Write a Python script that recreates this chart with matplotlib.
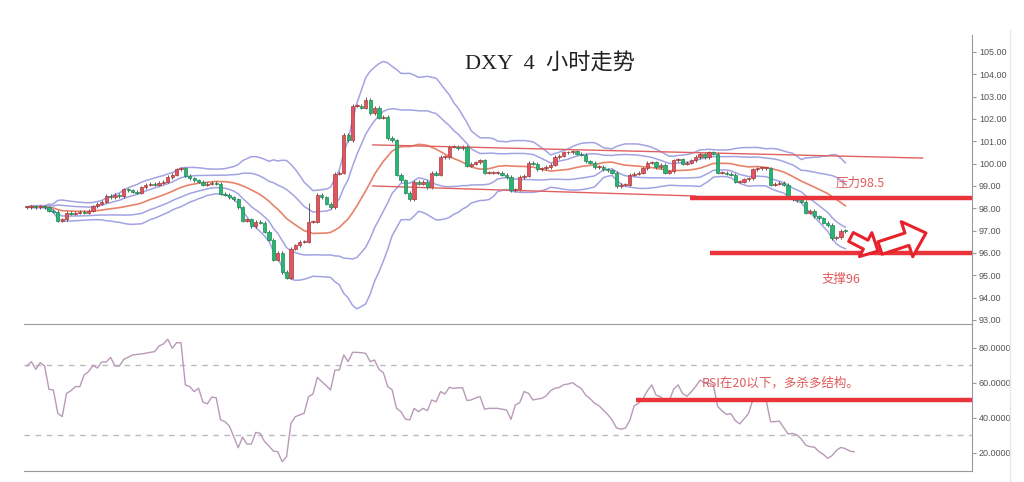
import matplotlib
matplotlib.use('Agg')
import matplotlib.pyplot as plt
from matplotlib.patches import Rectangle
import numpy as np
import pandas as pd

# 4小时收盘价
closes = [
    98.05, 98.1, 98.05, 98.1, 98.05, 97.9, 97.85, 97.45, 97.5, 97.8,
    97.75, 97.8, 97.85, 97.8, 97.9, 98.1, 98.2, 98.3, 98.55, 98.5,
    98.6, 98.55, 98.85, 98.8, 98.75, 98.7, 98.95, 99.05, 99.1, 99.05,
    99.15, 99.2, 99.4, 99.5, 99.75, 99.8, 99.45, 99.35, 99.25, 99.2,
    99.05, 99.1, 99.15, 99.1, 98.65, 98.6, 98.5, 98.4, 98.05, 97.45,
    97.5, 97.2, 97.4, 97.35, 96.95, 96.6, 95.7, 96.0, 95.15, 94.9,
    96.2, 96.35, 96.5, 96.5, 97.4, 97.4, 98.6, 98.5, 98.2, 98.05,
    99.55, 99.6, 101.3, 101.05, 102.6, 102.6, 102.5, 102.85, 102.25, 102.5,
    102.05, 102.1, 101.15, 101.05, 99.5, 99.25, 98.7, 98.4, 99.2, 99.1,
    99.2, 98.95, 99.6, 99.5, 100.3, 100.3, 100.75, 100.75, 100.7, 100.75,
    99.9, 100.0, 100.07, 100.15, 99.6, 99.6, 99.6, 99.6, 99.5, 99.4,
    98.8, 98.85, 99.4, 99.45, 100.05, 100.0, 99.75, 99.8, 99.85, 99.95,
    100.3, 100.35, 100.5, 100.5, 100.55, 100.45, 100.4, 100.1, 100.05, 99.85,
    99.85, 99.75, 99.7, 99.6, 99.0, 99.05, 99.05, 99.5, 99.55, 99.6,
    99.8, 100.05, 100.07, 99.85, 99.95, 99.6, 99.65, 100.15, 100.2, 100.0,
    100.05, 100.15, 100.3, 100.45, 100.3, 100.5, 100.45, 99.6, 99.6, 99.55,
    99.5, 99.2, 99.2, 99.3, 99.35, 99.75, 99.8, 99.8, 99.8, 99.05,
    99.1, 99.15, 99.05, 98.5, 98.4, 98.35, 98.3, 97.8, 97.9, 97.65,
    97.55, 97.35, 97.25, 96.65, 96.7, 97.0, 96.97,
]
# 长上影线
long_wicks = {64: 98.25, 77: 103.0}

rsi = [
    69.7, 72.2, 67.8, 71.6, 69.7, 56.4, 56, 42.7, 40.8, 54.1,
    55.6, 57.9, 57.9, 64.6, 66.5, 70, 68.5, 72, 72, 74.6,
    69.7, 69.7, 73.5, 74.7, 76, 76.3, 76.6, 77, 77.5, 77.9,
    81.1, 82.3, 85, 79.8, 83, 83, 58.9, 57.9, 55.1, 57,
    49, 48.1, 51.9, 51.6, 38.9, 37.9, 35.4, 29.3, 23, 29,
    25.1, 25.1, 31.8, 31.2, 26.5, 24, 21.1, 20.7, 15, 17.9,
    37, 40.8, 41.7, 42.7, 52.2, 53.7, 63.2, 60.8, 58.5, 56,
    67.4, 67.4, 76, 72.2, 77.5, 77.5, 77.3, 76.9, 72.2, 73.1,
    67.8, 65.9, 57.9, 56, 45.5, 43.6, 39.4, 38.9, 45.5, 43.6,
    45.5, 44.2, 50.3, 49.3, 55.1, 53.7, 57.5, 56.9, 57.2, 57.3,
    50, 50.3, 51.5, 52.2, 45, 45.5, 45.5, 45.5, 45, 44.6,
    39.2, 47.4, 48.8, 55.1, 54.1, 50.3, 50.8, 51.2, 52.6, 55.6,
    57, 57.5, 59, 59.4, 60.2, 58.3, 56.8, 53, 51, 48.5,
    47, 44.5, 42, 38.9, 34.3, 33.6, 34.2, 38.5, 46.9, 48.4,
    50.8, 55.5, 58.9, 53, 52.2, 49.5, 50.1, 56.5, 58.9, 54,
    52.4, 55, 58, 61.7, 60, 59.8, 59, 46.5, 44, 42,
    42.5, 38.5, 36.6, 39.5, 42.5, 50.6, 49.3, 50.6, 50.3, 37.9,
    37.9, 38.2, 34.5, 30.8, 31.2, 30.3, 28, 24.5, 23.6, 23.3,
    20.8, 19.2, 17, 18.5, 21.5, 23.2, 22.5, 21.1, 20.7,
]

resist_level = 98.45
support_level = 96.0
rsi_level = 50
rsi_bands = [70, 30]
price_ticks = list(range(93, 106))
rsi_ticks = [20, 40, 60, 80]

title = 'DXY  4  小时走势'
resist_label = '压力98.5'
support_label = '支撑96'
rsi_label = 'RSI在20以下，多杀多结构。'

plt.rcParams['font.family'] = ['Noto Sans CJK SC', 'DejaVu Sans']

RED = '#e8343a'
TXT_RED = '#e05a5a'
BAND = '#a3a3e3'

c = np.array(closes)
o = np.r_[c[0], c[:-1]]
idx = np.arange(len(c))
s = pd.Series(c)
mid = s.rolling(20, min_periods=1).mean()
sd = s.rolling(20, min_periods=1).std(ddof=0)

W, H = 1024, 482
fig = plt.figure(figsize=(W / 100, H / 100), dpi=100)
ax = fig.add_axes([24 / W, 1 - 324 / H, 948 / W, 289 / H])
ax2 = fig.add_axes([24 / W, 1 - 471 / H, 948 / W, 147 / H])

# 布林带
for k in (2, 1, -1, -2):
    ax.plot(idx, mid + k * sd, color=BAND, lw=1.1, zorder=2)
ax.plot(idx, mid, color='#e8826a', lw=1.2, zorder=2)

# K线，红涨绿跌
up = c >= o
body_lo = np.minimum(o, c)
body_h = np.maximum(np.abs(c - o), 0.04)
hi = np.maximum(o, c) + 0.07
lo = body_lo - 0.07
for i, h in long_wicks.items():
    hi[i] = h
ax.vlines(idx, lo, hi, color='#444444', lw=0.6, zorder=3)
ax.bar(idx, body_h, bottom=body_lo, width=0.75,
       color=np.where(up, '#e05561', '#29b673'),
       edgecolor=np.where(up, '#a83a3a', '#1d8a55'), linewidth=0.5, zorder=4)

# 趋势线
ax.plot([78.6, 203.6], [100.84, 100.25], color='#e06060', lw=1, zorder=3)
ax.plot([78.6, 152], [99.0, 98.55], color='#e06060', lw=1, zorder=3)
ax.hlines(resist_level, 150.7, 214.8, color=RED, lw=3.2, zorder=5)
ax.hlines(support_level, 155.2, 214.8, color=RED, lw=3.2, zorder=5)

ax.text(189.5, 99.13, resist_label, color=TXT_RED, fontsize=9, ha='center', va='center')
ax.text(185, 94.83, support_label, color=TXT_RED, fontsize=9, ha='center', va='center')

ax.set_xlim(-0.68, 214.8)
ax.set_ylim(92.82, 105.76)
ax.set_yticks(price_ticks)
ax.set_yticklabels([f'{t:.2f}' for t in price_ticks], family='Liberation Sans')

# RSI
for lvl in rsi_bands:
    ax2.axhline(lvl, color='#bbbbbb', lw=1, ls=(0, (4, 4)))
ax2.plot(np.arange(len(rsi)), rsi, color='#b89ab8', lw=1)
ax2.hlines(rsi_level, 138.4, 214.8, color=RED, lw=3.2)
ax2.text(171.4, 60, rsi_label, color=TXT_RED, fontsize=9, ha='center', va='center')
ax2.set_xlim(-0.68, 214.8)
ax2.set_ylim(9.7, 93.7)
ax2.set_yticks(rsi_ticks)
ax2.set_yticklabels([f'{t:.5f}' for t in rsi_ticks], family='Liberation Sans')

for a in (ax, ax2):
    a.yaxis.tick_right()
    a.set_xticks([])
    a.tick_params(axis='y', direction='out', length=3, color='#999999',
                  labelsize=6.5, labelcolor='#555555', pad=2)
    for side in ('left', 'top'):
        a.spines[side].set_visible(False)
    for side in ('right', 'bottom'):
        a.spines[side].set_color('#999999')
    a.patch.set_alpha(0)

# 空心箭头
arrow_kw = dict(fc='white', ec='#e8222a', lw=2.2, shrinkA=0, shrinkB=0)
ax.annotate('', xy=(878, H - 251), xytext=(851, H - 237),
            xycoords='figure pixels', textcoords='figure pixels', zorder=6,
            arrowprops=dict(arrowstyle='simple,head_length=0.5,head_width=0.97,tail_width=0.36',
                            mutation_scale=20, **arrow_kw))
ax.annotate('', xy=(926, H - 233), xytext=(880, H - 248),
            xycoords='figure pixels', textcoords='figure pixels', zorder=6,
            arrowprops=dict(arrowstyle='simple,head_length=0.72,head_width=1.33,tail_width=0.47',
                            mutation_scale=20, **arrow_kw))

fig.text(550 / W, 1 - 64 / H, title, ha='center', va='center', fontsize=16,
         family=['Liberation Serif', 'Noto Sans CJK SC'], color='#222222')

# 截图右侧边界
fig.add_artist(Rectangle((1010 / W, 0), 14 / W, 1, transform=fig.transFigure,
                         color='white', zorder=10))
fig.add_artist(plt.Line2D([1010 / W, 1010 / W], [0, 1 - 30 / H], transform=fig.transFigure,
                          color='#e6e6e6', lw=1, zorder=11))

fig.savefig('out.png', dpi=100)
